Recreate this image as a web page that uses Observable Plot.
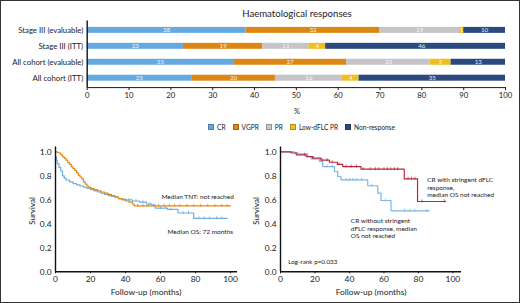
<!DOCTYPE html>
<html><head><meta charset="utf-8">
<script src="https://cdn.jsdelivr.net/npm/d3@7"></script>
<script src="https://cdn.jsdelivr.net/npm/@observablehq/plot@0.6"></script>
<style>
body{margin:0;background:#fff;}
#fig{position:relative;width:520px;height:303px;box-sizing:border-box;border:1px solid #333;overflow:hidden;font-family:Lato,"Noto Sans",sans-serif;color:#222;background:#fff}
.abs{position:absolute;white-space:nowrap}
.leg{display:flex;align-items:center;font-size:6.6px;}
.leg span.sw{display:inline-block;width:6px;height:6px;margin-right:3px;box-sizing:border-box;border:0.6px solid rgba(0,0,0,0.25)}
.leg .it{display:flex;align-items:center;margin-right:7px}
</style></head><body><div id="fig"></div>
<script>
// ---- Bar chart data ----
const categories = ["Stage III (evaluable)","Stage III (ITT)","All cohort (evaluable)","All cohort (ITT)"];
const responses = ["CR","VGPR","PR","Low-dFLC PR","Non-response"];
const responseColors = ["#64aae0","#dc8714","#c4c4c9","#efbe1f","#2b4a80"];
const crValues   = [38,23,35,25];
const vgprValues = [32,19,27,20];
const prValues   = [19,11,20,16];
const lowValues  = [1,4,5,4];
const nrValues   = [10,46,13,35];
const pctTicks = [0,10,20,30,40,50,60,70,80,90,100];

// ---- KM left: TNT (orange) & OS (blue) ----
const tntT = [0,1,2,3,4,5,6,7,8,9,10,11,12,13,14,15,16,17,18,19,20,22,24,26,28,30,32,34,36,38,40,42,44,45,100];
const tntS = [1.0,0.995,0.99,0.975,0.96,0.945,0.93,0.91,0.895,0.875,0.86,0.845,0.825,0.805,0.79,0.775,0.75,0.73,0.715,0.705,0.695,0.685,0.675,0.665,0.655,0.645,0.635,0.625,0.61,0.60,0.59,0.58,0.565,0.55,0.55];
const tntCensor = [47,50,53,56,59,62,65,68,71,75,79,83,87,91,95,98];
const osT = [0,0.5,1,2,3,4,5,6,8,10,12,14,16,18,20,22,24,26,28,30,32,34,36,38,40,44,48,52,55,57,64,70,79,98];
const osS = [0.96,0.93,0.90,0.87,0.84,0.80,0.78,0.765,0.75,0.735,0.725,0.715,0.705,0.695,0.685,0.675,0.665,0.655,0.645,0.635,0.628,0.62,0.61,0.605,0.60,0.59,0.58,0.565,0.555,0.53,0.52,0.49,0.445,0.445];
const osCensor = [42,46,50,54,60,63,66,73,76,82,85,88,92,95];

// ---- KM right: CR with / without stringent dFLC response ----
const strT = [0,6.2,9.1,14.9,18.7,23.5,28.4,33,36.1,46.7,71.8,79.5,95.9];
const strS = [1.0,0.99,0.975,0.96,0.947,0.93,0.913,0.895,0.877,0.855,0.775,0.586,0.586];
const strCensor = [14,19,24,27,30,34,38,41,44,48,52,55,57,60,62,64,66,68,74,76,78,82,95];
const nonT = [0,8.1,10,15.8,17.8,22.6,24.5,31.3,33.2,35.1,50.6,56.4,58.3,64.1,86.3];
const nonS = [1.0,0.994,0.983,0.96,0.94,0.92,0.877,0.836,0.794,0.766,0.717,0.655,0.594,0.508,0.508];
const nonCensor = [20,24,27,30,38,40,42,44,47,53,61,72,75,78,85];

const kmXTicks = [0,20,40,60,80,100];
const kmYTicks = [0,0.2,0.4,0.6,0.8,1.0];

// ---- build tables ----
const seriesValues = [crValues, vgprValues, prValues, lowValues, nrValues];
const table = [];
categories.forEach((c,i) => responses.forEach((r,j) => table.push({cat:c, resp:r, value:seriesValues[j][i]})));
const curve = (T,S) => T.map((t,i)=>({t, s:S[i]}));
function stepAt(T,S,t){let k=0;for(let i=0;i<T.length;i++){if(T[i]<=t)k=i;}return S[k];}
const cens = (C,T,S) => C.map(t=>({t, s:stepAt(T,S,t)}));

const fig = document.getElementById("fig");
function add(el, css){ el.classList.add("abs"); Object.assign(el.style, css); fig.appendChild(el); return el;}
function txt(s, css){ const d=document.createElement("div"); d.textContent=s; return add(d, css);}

const baseStyle = {background:"transparent", fontFamily:"Lato, 'Noto Sans', sans-serif", color:"#1a1a1a", overflow:"visible"};

// ---- bar chart ----
const bars = Plot.plot({
  width:520, height:118, marginTop:19.65, marginBottom:31.55, marginLeft:86, marginRight:14,
  style:{...baseStyle, fontSize:"7.8px"},
  x:{domain:[0,100], ticks:pctTicks, tickSize:3, tickPadding:2, label:null, line:true},
  y:{domain:categories, paddingInner:0.62, paddingOuter:0.31, tickSize:0, tickPadding:4, label:null},
  color:{domain:responses, range:responseColors},
  marks:[
    Plot.barX(table, Plot.stackX({x:"value", y:"cat", fill:"resp", clip:true})),
    Plot.text(table, Plot.stackX({x:"value", y:"cat", z:"resp", text:"value", fill:"white", fillOpacity:0.9, fontSize:6.3, clip:true})),
    Plot.ruleX([0], {stroke:"#111", strokeWidth:1.4})
  ]
});
add(bars, {left:"0px", top:"0px"});
txt("Haematological responses", {left:"296px", top:"12px", transform:"translate(-50%,-50%)", fontSize:"9.6px"});
txt("%", {left:"296px", top:"110px", transform:"translate(-50%,-50%)", fontSize:"7.5px"});

// legend
const leg = document.createElement("div"); leg.className="leg";
responses.forEach((r,j)=>{ const it=document.createElement("div"); it.className="it";
  const sw=document.createElement("span"); sw.className="sw"; sw.style.background=responseColors[j];
  it.appendChild(sw); it.appendChild(document.createTextNode(r)); leg.appendChild(it);});
add(leg, {left:"207px", top:"121.5px"});

// ---- KM left ----
const left = Plot.plot({
  width:250, height:163, marginLeft:54, marginRight:14, marginTop:5.5, marginBottom:32.7,
  style:{...baseStyle, fontSize:"8.4px"},
  x:{domain:[0,104], ticks:kmXTicks, tickSize:2, tickPadding:2, label:null},
  y:{domain:[0,1.04], ticks:kmYTicks, tickFormat:d3.format(".1f"), tickSize:0, tickPadding:4, label:null},
  marks:[
    Plot.line(curve(osT,osS), {x:"t", y:"s", curve:"step-after", stroke:"#6cb0e6", strokeWidth:1.2}),
    Plot.line(curve(tntT,tntS), {x:"t", y:"s", curve:"step-after", stroke:"#e08a1e", strokeWidth:1.2}),
    Plot.ruleX(cens(osCensor,osT,osS), {x:"t", y1:d=>d.s-0.012, y2:d=>d.s+0.012, stroke:"#6cb0e6", strokeWidth:0.8}),
    Plot.ruleX(cens(tntCensor,tntT,tntS), {x:"t", y1:d=>d.s-0.012, y2:d=>d.s+0.012, stroke:"#e08a1e", strokeWidth:0.8}),
    Plot.ruleX([0], {stroke:"#111", strokeWidth:1.4}),
    Plot.ruleY([0], {stroke:"#111", strokeWidth:1.4}),
    Plot.text(["Median TNT: not reached"], {x:101.9, y:0.6275, text:d=>d, textAnchor:"end", fontSize:6.5}),
    Plot.text(["Median OS: 72 months"], {x:101.5, y:0.33, text:d=>d, textAnchor:"end", fontSize:6.5})
  ]
});
add(left, {left:"0px", top:"140px"});
txt("Survival", {left:"30.7px", top:"210px", transform:"translate(-50%,-50%) rotate(-90deg)", fontSize:"8px"});
txt("Follow-up (months)", {left:"145px", top:"290.7px", transform:"translate(-50%,-50%)", fontSize:"8.4px"});

// ---- KM right ----
const right = Plot.plot({
  width:290, height:163, marginLeft:49, marginRight:60, marginTop:5.5, marginBottom:32.7,
  style:{...baseStyle, fontSize:"8.4px"},
  x:{domain:[0,105], ticks:kmXTicks, tickSize:2, tickPadding:2, label:null},
  y:{domain:[0,1.04], ticks:kmYTicks, tickFormat:d3.format(".1f"), tickSize:0, tickPadding:4, label:null},
  marks:[
    Plot.line(curve(nonT,nonS), {x:"t", y:"s", curve:"step-after", stroke:"#7ab6e8", strokeWidth:1.2}),
    Plot.line(curve(strT,strS), {x:"t", y:"s", curve:"step-after", stroke:"#b8283c", strokeWidth:1.2}),
    Plot.ruleX(cens(nonCensor,nonT,nonS), {x:"t", y1:d=>d.s-0.012, y2:d=>d.s+0.012, stroke:"#7ab6e8", strokeWidth:0.8}),
    Plot.ruleX(cens(strCensor,strT,strS), {x:"t", y1:d=>d.s-0.012, y2:d=>d.s+0.012, stroke:"#b8283c", strokeWidth:0.8}),
    Plot.ruleX([0], {stroke:"#111", strokeWidth:1.4}),
    Plot.ruleY([0], {stroke:"#111", strokeWidth:1.4}),
    Plot.text(["CR with stringent dFLC\nresponse,\nmedian OS not reached"], {x:85.1, y:0.705, text:d=>d, textAnchor:"start", lineAnchor:"middle", lineHeight:1.12, fontSize:6.5}),
    Plot.text(["CR without stringent\ndFLC response, median\nOS not reached"], {x:40.8, y:0.363, text:d=>d, textAnchor:"start", lineAnchor:"middle", lineHeight:1.12, fontSize:6.5}),
    Plot.text(["Log-rank p=0.033"], {x:4.5, y:0.08, text:d=>d, textAnchor:"start", fontSize:6.3})
  ]
});
add(right, {left:"230px", top:"140px"});
txt("Survival", {left:"255px", top:"210px", transform:"translate(-50%,-50%) rotate(-90deg)", fontSize:"8px"});
txt("Follow-up (months)", {left:"370px", top:"290.7px", transform:"translate(-50%,-50%)", fontSize:"8.4px"});
</script></body></html>
